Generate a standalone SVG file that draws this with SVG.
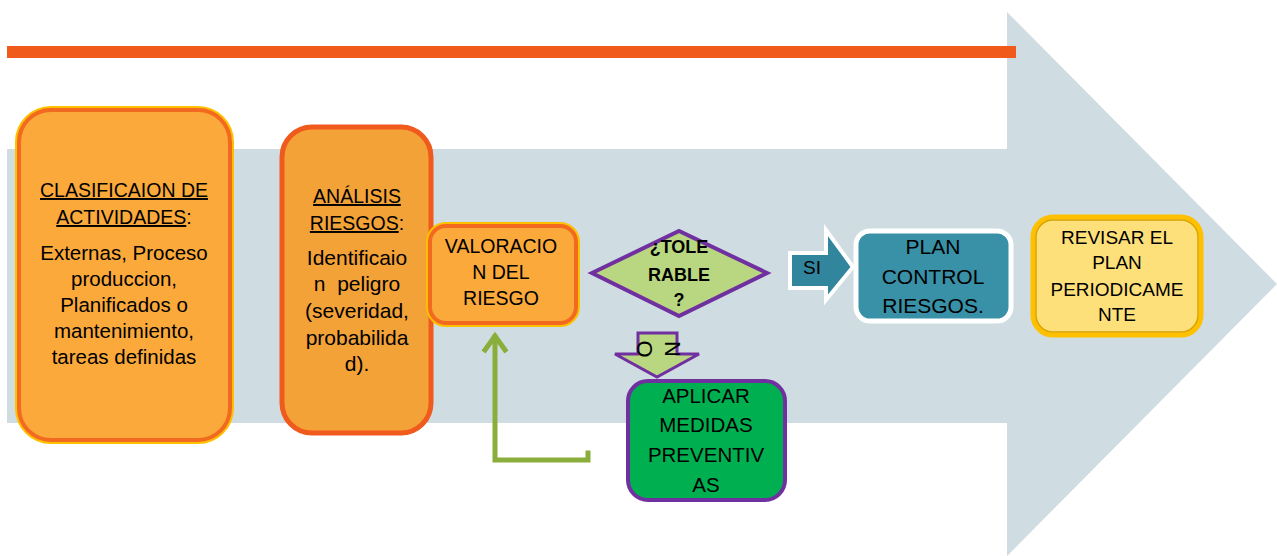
<svg xmlns="http://www.w3.org/2000/svg" width="1277" height="556" viewBox="0 0 1277 556">
<defs>
<style>
text{font-family:"Liberation Sans",Arial,sans-serif;fill:#000;text-anchor:middle}
.u{text-decoration:underline}
.b{font-weight:bold}
.orangeBox{fill:#FBA93A;stroke:#F26A1F;stroke-width:4}
.yellowRim{fill:none;stroke:#FFC000;stroke-width:8}
.green{fill:none;stroke:#8AAE3B;stroke-width:5;stroke-linecap:square;stroke-linejoin:miter}
</style>
</defs>
<rect width="1277" height="556" fill="#fff"/>
<g id="background">
<polygon points="7,149 1007,149 1007,12 1277,284 1007,556 1007,423 7,423" fill="#CFDCE2"/>
<rect x="7" y="46" width="1009" height="12" fill="#F05A1A"/>
</g>
<g id="connectors">
<path class="green" d="M588,453 L588,460 L495,460 L495,337"/>
<polyline class="green" points="485,350 495,336 505,350" fill="none"/>
<polygon points="790,253 826,253 826,230 853,267 826,300 826,288 790,288" fill="#31859C" stroke="#fff" stroke-width="4" stroke-linejoin="miter"/>
<text x="812" y="274" font-size="19">SI</text>
<polygon points="638,333 677,333 677,354 699,354 657,377 615,354 638,354" fill="#B9D780" stroke="#7030A0" stroke-width="3"/>
<text transform="translate(644,349) rotate(90)" font-size="22" dominant-baseline="central">O</text>
<text transform="translate(672,349) rotate(90)" font-size="22" dominant-baseline="central">N</text>
</g>
<g id="node-clasificacion">
<rect class="yellowRim" x="19" y="110" width="211" height="330" rx="32"/>
<rect class="orangeBox" x="19" y="110" width="211" height="330" rx="32"/>
<text x="124" y="197" font-size="19.5"><tspan class="u">CLASIFICAION DE</tspan></text>
<text x="124" y="224" font-size="19.5"><tspan class="u">ACTIVIDADES</tspan>:</text>
<text font-size="20.5"><tspan x="124" y="260">Externas, Proceso</tspan><tspan x="124" y="286">produccion,</tspan><tspan x="124" y="312">Planificados o</tspan><tspan x="124" y="338">mantenimiento,</tspan><tspan x="124" y="364">tareas definidas</tspan></text>
</g>
<g id="node-analisis">
<rect x="282" y="127" width="149" height="306" rx="30" fill="#F3A237" stroke="#F05A1C" stroke-width="5"/>
<text x="357" y="203" font-size="19.5"><tspan class="u">ANÁLISIS</tspan></text>
<text x="357" y="230" font-size="19.5"><tspan class="u">RIESGOS</tspan>:</text>
<text font-size="21" style="white-space:pre"><tspan x="357" y="265">Identificaio</tspan><tspan x="357" y="291">n  peligro</tspan><tspan x="357" y="318">(severidad,</tspan><tspan x="357" y="345">probabilida</tspan><tspan x="357" y="371">d).</tspan></text>
</g>
<g id="node-valoracion">
<rect class="yellowRim" x="430" y="226" width="146" height="97" rx="16"/>
<rect class="orangeBox" x="430" y="226" width="146" height="97" rx="16"/>
<text font-size="19.5"><tspan x="501" y="253">VALORACIO</tspan><tspan x="501" y="279">N DEL</tspan><tspan x="501" y="305">RIESGO</tspan></text>
</g>
<g id="node-tolerable">
<polygon points="592,273 679,231 767,273 679,316" fill="#B9D780" stroke="#7030A0" stroke-width="4"/>
<text class="b" font-size="18"><tspan x="679" y="253">¿TOLE</tspan><tspan x="679" y="281">RABLE</tspan><tspan x="679" y="306">?</tspan></text>
</g>
<g id="node-aplicar">
<rect x="628" y="381" width="157" height="119" rx="20" fill="#00B050" stroke="#7030A0" stroke-width="4"/>
<text font-size="20.5"><tspan x="706" y="403">APLICAR</tspan><tspan x="706" y="432">MEDIDAS</tspan><tspan x="706" y="462">PREVENTIV</tspan><tspan x="706" y="492">AS</tspan></text>
</g>
<g id="node-plan">
<rect x="856" y="231" width="155" height="90" rx="14" fill="#3891A7" stroke="#fff" stroke-width="5"/>
<text font-size="21"><tspan x="933" y="254">PLAN</tspan><tspan x="933" y="284">CONTROL</tspan><tspan x="933" y="313">RIESGOS.</tspan></text>
</g>
<g id="node-revisar">
<rect x="1033" y="217" width="168" height="118" rx="20" fill="#FEE07A" stroke="#FFC000" stroke-width="5"/>
<rect x="1036" y="220" width="162" height="112" rx="17" fill="none" stroke="#D9A400" stroke-width="1.5"/>
<text font-size="19"><tspan x="1117" y="244">REVISAR EL</tspan><tspan x="1117" y="269">PLAN</tspan><tspan x="1117" y="296">PERIODICAME</tspan><tspan x="1117" y="321">NTE</tspan></text>
</g>
</svg>
